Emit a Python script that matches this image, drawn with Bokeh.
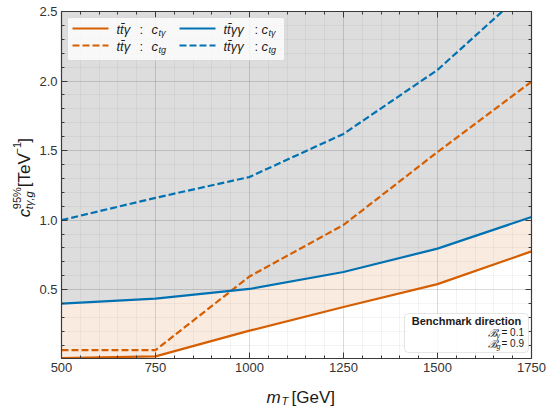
from math import pi

from bokeh.plotting import figure
from bokeh.layouts import column, row
from bokeh.models import (LinearAxis, FixedTicker, NumeralTickFormatter,
                          Range1d, BoxAnnotation, Label)
from bokeh.embed import file_html
from bokeh.resources import INLINE

# Expected 95% CL limits on the couplings versus the top-partner mass
mass = [500, 750, 1000, 1250, 1500, 1750]
tta_cta = [0.008, 0.020, 0.205, 0.375, 0.540, 0.775]   # tt~gamma : c_t gamma
tta_ctg = [0.065, 0.065, 0.595, 0.965, 1.490, 1.995]   # tt~gamma : c_tg
ttaa_cta = [0.400, 0.435, 0.505, 0.627, 0.795, 1.022]  # tt~gamma gamma : c_t gamma
ttaa_ctg = [1.000, 1.160, 1.310, 1.620, 2.080, 2.690]  # tt~gamma gamma : c_tg

x_ticks = [500, 750, 1000, 1250, 1500, 1750]
y_ticks = [0.5, 1.0, 1.5, 2.0, 2.5]

X_MIN, X_MAX = 500, 1750
Y_MIN, Y_MAX = 0.005, 2.5

ORANGE = "#D55E00"
BLUE = "#0072B2"
AXIS_COL = "#3a3a3a"
FONT = "Liberation Sans"

# page geometry (pixels): label strip on the left, label strip at the bottom
PAGE_W, PAGE_H = 550, 409
YSTRIP_W = 36
XSTRIP_H = 28
L, T, W, H = 61, 11, 470, 347          # frame position on the page


def fx(px):
    return X_MIN + (px - L) / W * (X_MAX - X_MIN)


def fy(py):
    return Y_MAX - (py - T) / H * (Y_MAX - Y_MIN)


main_w = PAGE_W - YSTRIP_W
main_h = PAGE_H - XSTRIP_H
p = figure(frame_width=W, frame_height=H,
           x_range=Range1d(X_MIN, X_MAX), y_range=Range1d(Y_MIN, Y_MAX),
           output_backend="svg", toolbar_location=None,
           min_border_left=L - YSTRIP_W, min_border_right=main_w - (L - YSTRIP_W) - W,
           min_border_top=T, min_border_bottom=main_h - T - H)
p.background_fill_color = "white"
p.border_fill_color = "white"
p.outline_line_color = None

xt = FixedTicker(ticks=x_ticks, minor_ticks=list(range(X_MIN, X_MAX + 1, 50)))
yt = FixedTicker(ticks=y_ticks, minor_ticks=[round(0.1 * i, 1) for i in range(1, 26)])


def style_axis(ax, ticker, show_labels):
    ax.ticker = ticker
    ax.axis_line_color = AXIS_COL
    ax.axis_line_width = 1.2
    ax.major_tick_line_color = AXIS_COL
    ax.major_tick_line_width = 1
    ax.major_tick_in = 6
    ax.major_tick_out = 0
    ax.minor_tick_line_color = AXIS_COL
    ax.minor_tick_line_width = 1
    ax.minor_tick_in = 3
    ax.minor_tick_out = 0
    ax.axis_label = None
    if show_labels:
        ax.major_label_text_font = FONT
        ax.major_label_text_font_size = "13px"
        ax.major_label_text_color = "#333333"
        ax.major_label_standoff = 4
    else:
        ax.major_label_text_font_size = "1px"
        ax.major_label_text_color = None
        ax.major_label_standoff = 0


style_axis(p.xaxis[0], xt, True)
style_axis(p.yaxis[0], yt, True)
p.yaxis[0].formatter = NumeralTickFormatter(format="0.0")

top_ax = LinearAxis()
right_ax = LinearAxis()
style_axis(top_ax, xt, False)
style_axis(right_ax, yt, False)
p.add_layout(top_ax, "above")
p.add_layout(right_ax, "right")

for g, tk in ((p.xgrid[0], xt), (p.ygrid[0], yt)):
    g.ticker = tk
    g.grid_line_color = "black"
    g.grid_line_alpha = 0.10
    g.minor_grid_line_color = "black"
    g.minor_grid_line_alpha = 0.045

# shaded regions: excluded (grey) above the tt~gamma gamma bound, band between bounds
p.varea(x=mass, y1=ttaa_cta, y2=[Y_MAX] * len(mass), fill_color="black", fill_alpha=0.135)
p.varea(x=mass, y1=tta_cta, y2=ttaa_cta, fill_color=ORANGE, fill_alpha=0.12)

DASH = "7 3"
p.line(mass, tta_cta, line_color=ORANGE, line_width=2.2)
p.line(mass, tta_ctg, line_color=ORANGE, line_width=2.2, line_dash=DASH)
p.line(mass, ttaa_cta, line_color=BLUE, line_width=2.2)
p.line(mass, ttaa_ctg, line_color=BLUE, line_width=2.2, line_dash=DASH)


def make_label(fig, x, y, text, size, style="normal", align="left",
               baseline="middle", angle=0.0, color="#1a1a1a"):
    fig.add_layout(Label(x=x, y=y, text=text, text_font=FONT,
                         text_font_size=f"{size}px", text_font_style=style,
                         text_align=align, text_baseline=baseline,
                         angle=angle, text_color=color))


def label(px, py, *args, **kw):
    make_label(p, fx(px), fy(py), *args, **kw)


# legend
p.add_layout(BoxAnnotation(left=fx(67), right=fx(284), top=fy(17), bottom=fy(60),
                           fill_color="white", fill_alpha=0.8,
                           line_color="#b5b5b5", line_width=1, border_radius=2))

legend_entries = [
    (72, 28, ORANGE, "solid", "tt\u0304\u03b3", "t\u03b3"),
    (72, 45, ORANGE, DASH, "tt\u0304\u03b3", "tg"),
    (179, 28, BLUE, "solid", "tt\u0304\u03b3\u03b3", "t\u03b3"),
    (179, 45, BLUE, DASH, "tt\u0304\u03b3\u03b3", "tg"),
]
for x0, yrow, col, dash, proc, sub in legend_entries:
    r = p.line([fx(x0), fx(x0 + 36)], [fy(yrow), fy(yrow)], line_color=col,
               line_width=2.2, line_dash=dash)
    r.level = "overlay"
    tx = x0 + 44
    two_photons = len(proc) > 4
    colon_dx = 31 if two_photons else 23
    c_dx = 38 if two_photons else 35
    label(tx, yrow + 1, proc, 13, "italic")
    label(tx + colon_dx, yrow + 1, ":", 13)
    label(tx + c_dx, yrow + 1, "c", 13, "italic")
    label(tx + c_dx + 7, yrow + 4, sub, 9, "italic")

# benchmark box
p.add_layout(BoxAnnotation(left=fx(404), right=fx(528), top=fy(313), bottom=fy(352),
                           fill_color="white", fill_alpha=0.8,
                           line_color="#a8a8a8", line_width=1, border_radius=4))
label(466, 320, "Benchmark direction", 11, "bold", align="center")
label(501, 332, "= 0.1", 10, align="left")
label(496, 332, "\u212c", 11, "italic", align="right")
label(496, 335, "\u03b3", 7, "italic", align="left")
label(501, 343, "= 0.9", 10, align="left")
label(496, 343, "\u212c", 11, "italic", align="right")
label(496, 346, "g", 7, "italic", align="left")


def strip(w, h):
    f = figure(width=w, height=h, x_range=Range1d(0, w), y_range=Range1d(0, h),
               output_backend="svg", toolbar_location=None, min_border=0,
               x_axis_location=None, y_axis_location=None)
    f.outline_line_color = None
    f.background_fill_color = "white"
    f.border_fill_color = "white"
    f.xgrid.visible = False
    f.ygrid.visible = False
    return f


# y-axis title strip: c^{95%}_{t gamma, g} [TeV^-1], reading upwards
ys = strip(YSTRIP_W, main_h)


def ylab(px, py, *args, **kw):
    make_label(ys, px, main_h - py, *args, **kw)


ylab(24, 226, "c", 17, "italic", baseline="alphabetic", angle=pi / 2)
ylab(16, 217, "95%", 11, baseline="alphabetic", angle=pi / 2)
ylab(28, 217, "t\u03b3,g", 11, "italic", baseline="alphabetic", angle=pi / 2)
ylab(24, 193, "[TeV", 17, baseline="alphabetic", angle=pi / 2)
ylab(16, 157, "\u22121", 11, baseline="alphabetic", angle=pi / 2)
ylab(24, 144, "]", 17, baseline="alphabetic", angle=pi / 2)

# x-axis title strip: m_T [GeV]
xs = strip(PAGE_W, XSTRIP_H)


def xlab(px, py, *args, **kw):
    make_label(xs, px, PAGE_H - py, *args, **kw)


xlab(266, 397, "m", 17, "italic", baseline="alphabetic")
xlab(281, 400, "T", 11, "italic", baseline="alphabetic")
xlab(291, 397, "[GeV]", 17, baseline="alphabetic")

layout = column(row(ys, p, spacing=0), xs, spacing=0)
open("out.html", "w").write(file_html(layout, INLINE))
